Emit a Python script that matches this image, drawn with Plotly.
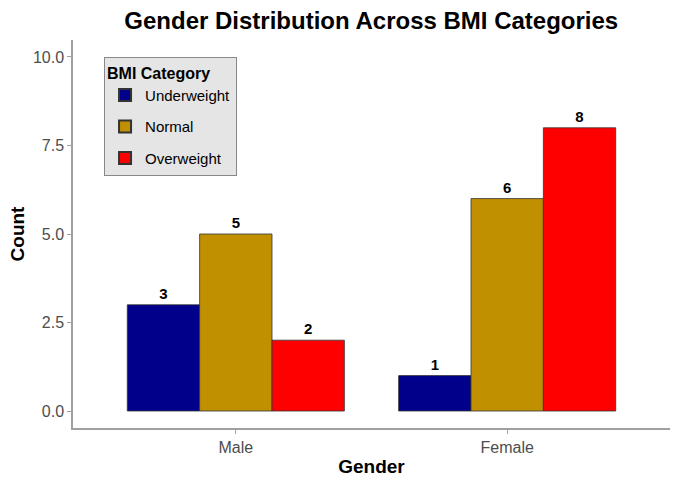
import plotly.graph_objects as go

genders = ["Male", "Female"]
categories = ["Underweight", "Normal", "Overweight"]
counts = {
    "Underweight": [3, 1],
    "Normal": [5, 6],
    "Overweight": [2, 8],
}
colors = {"Underweight": "#00008B", "Normal": "#C09000", "Overweight": "#FF0000"}

fig = go.Figure()
for cat in categories:
    fig.add_trace(go.Bar(
        x=genders, y=counts[cat], name=cat, legendgroup=cat,
        marker=dict(color=colors[cat], line=dict(color="#333333", width=0.8)),
        text=[str(v) for v in counts[cat]], textposition="outside",
        textfont=dict(family="Liberation Sans", size=15, color="black", weight="bold"),
        cliponaxis=False,
    ))

fig.update_layout(
    width=680, height=486,
    barmode="group", bargap=0.2, bargroupgap=0,
    plot_bgcolor="white", paper_bgcolor="white",
    margin=dict(l=73, r=10, t=40, b=58, autoexpand=False),
    font=dict(family="Liberation Sans", color="#4d4d4d"),
    title=dict(text="<b>Gender Distribution Across BMI Categories</b>",
               x=0.546, xanchor="center", y=0.957, yanchor="middle",
               font=dict(size=24, color="black"), automargin=False),
    legend=dict(
        title=dict(text="<b>BMI Category</b>", font=dict(size=16, color="black")),
        font=dict(size=15, color="black"),
        bgcolor="#E5E5E5", bordercolor="#888888", borderwidth=1,
        x=0.052, y=0.956, xanchor="left", yanchor="top",
        itemsizing="constant", tracegroupgap=9,
    ),
    showlegend=True,
)
fig.update_xaxes(
    automargin=False,
    range=[-0.6, 1.6], showline=True, linecolor="#A0A0A0", linewidth=1.5,
    ticks="outside", tickcolor="#A0A0A0", ticklen=4,
    tickfont=dict(size=16, color="#4d4d4d"),
    title=dict(text="<b>Gender</b>", font=dict(size=19, color="black"), standoff=5),
    showgrid=False, zeroline=False,
)
fig.update_yaxes(
    automargin=False,
    range=[-0.48, 10.48], tickvals=[0, 2.5, 5, 7.5, 10],
    ticktext=["0.0", "2.5", "5.0", "7.5", "10.0"],
    showline=True, linecolor="#A0A0A0", linewidth=1.5,
    ticks="outside", tickcolor="#A0A0A0", ticklen=4,
    tickfont=dict(size=16, color="#4d4d4d"),
    title=dict(text="<b>Count</b>", font=dict(size=19, color="black"), standoff=3),
    showgrid=False, zeroline=False,
)

fig.write_html("out.html", config={"displayModeBar": False},
               post_script="document.body.style.margin='0px';")
